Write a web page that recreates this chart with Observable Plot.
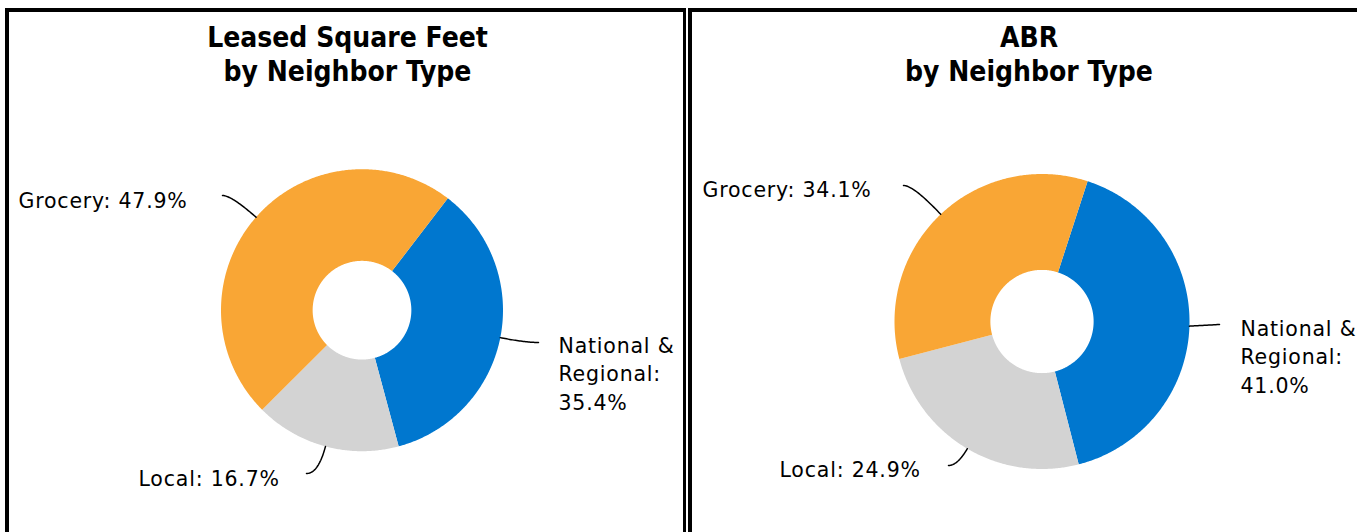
<!DOCTYPE html>
<html><head><meta charset="utf-8">
<script src="https://cdn.jsdelivr.net/npm/d3@7"></script>
<script src="https://cdn.jsdelivr.net/npm/@observablehq/plot@0.6"></script>
<style>
html,body{margin:0;padding:0;background:#fff;}
#wrap{position:relative;width:1357px;height:532px;overflow:hidden;background:#fff;}
.panel{position:absolute;top:0;}
.border{position:absolute;box-sizing:border-box;border:4px solid #000;pointer-events:none;}
</style></head><body><div id="wrap"></div>
<script>
// ---- data ----
const categories = ["National & Regional", "Local", "Grocery"];
const labelNames = ["National &\nRegional:", "Local:", "Grocery:"];
const leasedSqFtPct = [35.4, 16.7, 47.9];
const abrPct = [41.0, 24.9, 34.1];
const chartTitles = ["Leased Square Feet\nby Neighbor Type", "ABR\nby Neighbor Type"];
const seriesValues = [leasedSqFtPct, abrPct];

// ---- styles / layout ----
const colors = ["#0077CF", "#D3D3D3", "#F9A635"];
const layouts = [
  {x0: 0, x1: 686, cx: 361.5, cy: 309.7, R: 141, hole: 0.35, start: 37.5, titleX: 347, titleY: 80,
   labels: [{lx: 538, ly: 342, tx: 558, ty: 409}, {lx: 306, ly: 473, tx: 138, ty: 485}, {lx: 222, ly: 195, tx: 18, ty: 207}]},
  {x0: 686, x1: 1357, cx: 1041.5, cy: 321, R: 147.5, hole: 0.35, start: 18, titleX: 1028.5, titleY: 80,
   labels: [{lx: 1219, ly: 324, tx: 1240, ty: 392}, {lx: 948, ly: 465, tx: 779, ty: 476}, {lx: 903, ly: 185, tx: 702, ty: 196}]}
];

const wrap = document.getElementById("wrap");

layouts.forEach((L, ci) => {
  const values = seriesValues[ci];
  const rows = categories.map((c, i) => ({cat: c, value: values[i], i}));
  const arcs = d3.pie().sort(null).value(d => d.value)
    .startAngle(L.start * Math.PI / 180).endAngle(L.start * Math.PI / 180 + 2 * Math.PI)(rows);
  const r0 = L.R * L.hole;
  const pt = (a, r) => ({x: L.cx + r * Math.sin(a), y: L.cy - r * Math.cos(a)});
  const slicePts = [];
  const leaderPts = [];
  const labelRows = [];
  arcs.forEach(a => {
    const n = Math.max(2, Math.ceil((a.endAngle - a.startAngle) / (Math.PI / 360)));
    for (let k = 0; k <= n; k++) {
      const t = a.startAngle + (a.endAngle - a.startAngle) * k / n;
      slicePts.push({...pt(t, L.R), cat: a.data.cat});
    }
    for (let k = n; k >= 0; k--) {
      const t = a.startAngle + (a.endAngle - a.startAngle) * k / n;
      slicePts.push({...pt(t, r0), cat: a.data.cat});
    }
    // leader line: quadratic curve from slice edge (radial) to label (horizontal)
    const mid = (a.startAngle + a.endAngle) / 2;
    const P = pt(mid, L.R);
    const dir = {x: Math.sin(mid), y: -Math.cos(mid)};
    const lab = L.labels[a.data.i];
    const E = {x: lab.lx, y: lab.ly};
    let tt = Math.abs(dir.y) > 1e-6 ? (E.y - P.y) / dir.y : 0;
    const maxT = Math.hypot(E.x - P.x, E.y - P.y);
    tt = Math.max(0, Math.min(tt, maxT));
    const C = {x: P.x + dir.x * tt, y: P.y + dir.y * tt};
    for (let k = 0; k <= 30; k++) {
      const u = k / 30;
      leaderPts.push({
        x: (1 - u) * (1 - u) * P.x + 2 * u * (1 - u) * C.x + u * u * E.x,
        y: (1 - u) * (1 - u) * P.y + 2 * u * (1 - u) * C.y + u * u * E.y,
        cat: a.data.cat
      });
    }
    const name = labelNames[a.data.i];
    labelRows.push({x: lab.tx, y: lab.ty, text: name + (name.includes("\n") ? "\n" : " ") + a.data.value.toFixed(1) + "%"});
  });

  const W = L.x1 - L.x0;
  const chart = Plot.plot({
    width: W, height: 532, margin: 0,
    x: {domain: [L.x0, L.x1], range: [0, W], axis: null},
    y: {domain: [0, 532], range: [0, 532], axis: null},
    color: {domain: categories, range: colors},
    marks: [
      Plot.line(slicePts, {x: "x", y: "y", z: "cat", fill: "cat", stroke: "none"}),
      Plot.line(leaderPts, {x: "x", y: "y", z: "cat", stroke: "#000", strokeWidth: 1.5, curve: "linear"}),
      Plot.text(labelRows, {x: "x", y: "y", text: "text", textAnchor: "start", lineAnchor: "bottom",
        lineHeight: 1.37, fontSize: 20.5, fill: "#000", fontFamily: "DejaVu Sans"}),
      Plot.text([{x: L.titleX, y: L.titleY, text: chartTitles[ci]}], {x: "x", y: "y", text: "text",
        lineAnchor: "bottom", lineHeight: 1.2, fontSize: 28, fontWeight: "bold", fill: "#000",
        fontFamily: "DejaVu Sans Condensed, DejaVu Sans"})
    ]
  });
  const textGroups = d3.select(chart).selectAll('g[aria-label="text"]').nodes();
  if (textGroups[0]) textGroups[0].style.letterSpacing = "0.8px";
  const holder = document.createElement("div");
  holder.className = "panel";
  holder.style.left = L.x0 + "px";
  holder.appendChild(chart);
  wrap.appendChild(holder);
});

// panel frames
[{left: 5, right: 3}, {left: 688, right: 4}].forEach(f => {
  const b = document.createElement("div");
  b.className = "border";
  b.style.left = f.left + "px";
  b.style.top = "8px";
  b.style.width = "681px";
  b.style.height = "600px";
  b.style.borderRightWidth = f.right + "px";
  wrap.appendChild(b);
});
</script></body></html>
